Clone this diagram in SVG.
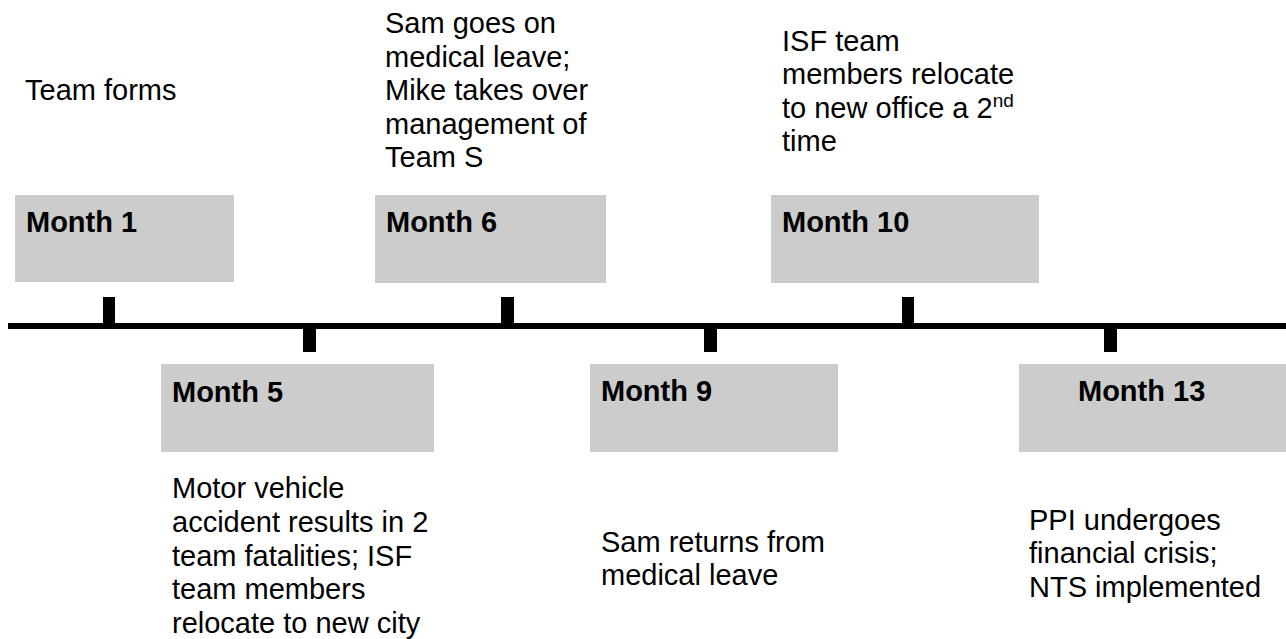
<svg xmlns="http://www.w3.org/2000/svg" width="1286" height="639" viewBox="0 0 1286 639">
<style>
.box{fill:#cccccc;}
.lbl{font-family:"Liberation Sans",Arial,sans-serif;font-size:29px;font-weight:bold;fill:#000;}
.txt{font-family:"Liberation Sans",Arial,sans-serif;font-size:29px;fill:#000;}
.tick{fill:#000;}
</style>
<rect width="1286" height="639" fill="#ffffff"/>
<g id="connectors">
<rect x="8" y="323" width="1278" height="6" fill="#000"/>
<rect class="tick" x="103" y="297" width="12" height="29"/>
<rect class="tick" x="303" y="326" width="13" height="26"/>
<rect class="tick" x="501" y="297" width="13" height="29"/>
<rect class="tick" x="704" y="326" width="13" height="26"/>
<rect class="tick" x="902" y="297" width="12" height="29"/>
<rect class="tick" x="1104" y="326" width="13" height="26"/>
</g>
<g id="month1">
<rect class="box" x="15" y="195" width="219" height="87"/>
<text class="lbl" x="26" y="232">Month 1</text>
<text class="txt" x="25" y="100">Team forms</text>
</g>
<g id="month5">
<rect class="box" x="161" y="364" width="273" height="88"/>
<text class="lbl" x="172" y="402">Month 5</text>
<text class="txt" x="172" y="498">Motor vehicle</text>
<text class="txt" x="172" y="532">accident results in 2</text>
<text class="txt" x="172" y="566">team fatalities; ISF</text>
<text class="txt" x="172" y="599">team members</text>
<text class="txt" x="172" y="633">relocate to new city</text>
</g>
<g id="month6">
<rect class="box" x="375" y="195" width="231" height="88"/>
<text class="lbl" x="386" y="232">Month 6</text>
<text class="txt" x="385" y="33">Sam goes on</text>
<text class="txt" x="385" y="67">medical leave;</text>
<text class="txt" x="385" y="100">Mike takes over</text>
<text class="txt" x="385" y="134">management of</text>
<text class="txt" x="385" y="167">Team S</text>
</g>
<g id="month9">
<rect class="box" x="590" y="364" width="248" height="88"/>
<text class="lbl" x="601" y="401">Month 9</text>
<text class="txt" x="601" y="552">Sam returns from</text>
<text class="txt" x="601" y="585">medical leave</text>
</g>
<g id="month10">
<rect class="box" x="771" y="195" width="268" height="88"/>
<text class="lbl" x="782" y="232">Month 10</text>
<text class="txt" x="782" y="51">ISF team</text>
<text class="txt" x="782" y="84">members relocate</text>
<text class="txt" x="782" y="118">to new office a 2<tspan font-size="19" dy="-11">nd</tspan></text>
<text class="txt" x="782" y="151">time</text>
</g>
<g id="month13">
<rect class="box" x="1019" y="364" width="267" height="88"/>
<text class="lbl" x="1078" y="401">Month 13</text>
<text class="txt" x="1029" y="530">PPI undergoes</text>
<text class="txt" x="1029" y="563">financial crisis;</text>
<text class="txt" x="1029" y="597">NTS implemented</text>
</g>
</svg>
